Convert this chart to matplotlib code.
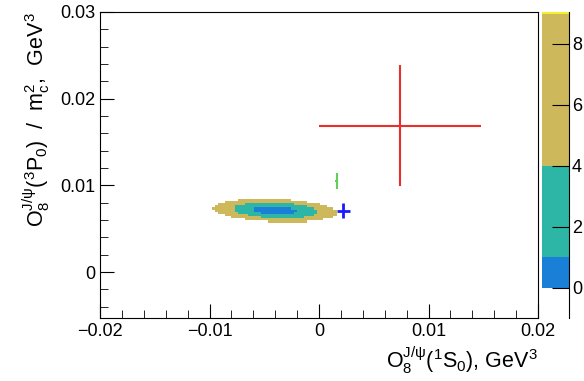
import matplotlib
matplotlib.use("Agg")
import matplotlib.pyplot as plt
import numpy as np
from matplotlib.colors import ListedColormap, BoundaryNorm
from matplotlib.ticker import MultipleLocator

plt.rcParams['font.family'] = ['Liberation Sans', 'DejaVu Sans']
plt.rcParams['mathtext.fontset'] = 'custom'
plt.rcParams['mathtext.rm'] = 'Liberation Sans'
plt.rcParams['mathtext.it'] = 'Liberation Sans'
plt.rcParams['mathtext.bf'] = 'Liberation Sans'

# chi2 surface of the fit (quadratic approximation)
fit_center = (-0.0040, 0.0071)
fit_sigma = (0.0019, 0.00045)
fit_rho = -0.2
chi2_levels = [0, 1, 4, 9]
level_colors = ['#1a7fd6', '#2db6a6', '#cdb95c']

# other determinations: x, y, xerr, yerr
blue_pt = (0.0022, 0.0071, 0.0006, 0.0009)
green_pt = (0.0016, 0.0105, 0.00013, 0.0009)
red_pt = (0.0074, 0.0169, 0.0074, 0.0070)

fig = plt.figure(figsize=(5.84, 3.81), dpi=100)
W, H = 584, 381
ax = fig.add_axes([100 / W, 1 - 318 / H, 438 / W, 306 / H])

xe = np.arange(-0.02, 0.02 + 1e-9, 0.0003)
ye = np.arange(-0.0053, 0.03 + 1e-9, 0.00025)
xc = 0.5 * (xe[1:] + xe[:-1])
yc = 0.5 * (ye[1:] + ye[:-1])
X, Y = np.meshgrid(xc, yc)
dx = (X - fit_center[0]) / fit_sigma[0]
dy = (Y - fit_center[1]) / fit_sigma[1]
chi2 = (dx**2 + dy**2 - 2 * fit_rho * dx * dy) / (1 - fit_rho**2)
chi2 = np.ma.masked_greater_equal(chi2, 9)

cmap = ListedColormap(level_colors)
norm = BoundaryNorm(chi2_levels, cmap.N)
ax.pcolormesh(xe, ye, chi2, cmap=cmap, norm=norm)

for (x, y, ex, ey), c, lw in [(red_pt, '#e8302a', 1.5), (green_pt, '#62cf5a', 1.5), (blue_pt, '#1a1aff', 2)]:
    ax.errorbar([x], [y], xerr=[ex], yerr=[ey], fmt='none', ecolor=c, elinewidth=lw, capsize=0)

ax.set_xlim(-0.02, 0.02)
ax.set_ylim(-0.0053, 0.03)
ax.xaxis.set_major_locator(MultipleLocator(0.01))
ax.xaxis.set_minor_locator(MultipleLocator(0.002))
ax.yaxis.set_major_locator(MultipleLocator(0.01))
ax.yaxis.set_minor_locator(MultipleLocator(0.002))
ax.tick_params(which='both', direction='in', top=False, right=False, labelsize=13)
ax.tick_params(which='major', length=10)
ax.tick_params(which='minor', length=6)
ax.set_xticks([-0.02, -0.01, 0, 0.01, 0.02])
ax.set_xticklabels(['\u22120.02', '\u22120.01', '0', '0.01', '0.02'])
ax.set_yticks([0, 0.01, 0.02, 0.03])
ax.set_yticklabels(['0', '0.01', '0.02', '0.03'])

ax.set_xlabel(r'$\mathrm{O_8^{J/\psi}(^1S_0)}$, GeV$^3$', fontsize=15.5, loc='right', labelpad=3)
ax.set_ylabel(r'$\mathrm{O_8^{J/\psi}(^3P_0)}$  /  $\mathrm{m_c^2}$,  GeV$^3$', fontsize=15.5, loc='top', labelpad=6)

# palette
cax = fig.add_axes([542 / W, 1 - 318 / H, 27 / W, 306 / H])
cax.set_ylim(-1.0, 9.05)
cax.set_xlim(0, 1)
for lo, hi, c in zip(chi2_levels[:-1], chi2_levels[1:], level_colors):
    cax.axhspan(lo, min(hi, 9.0), color=c, lw=0)
cax.axhspan(9.0, 9.05, color='#f5f02a', lw=0)
for s in ['left', 'top', 'bottom']:
    cax.spines[s].set_visible(False)
cax.set_xticks([])
cax.yaxis.tick_right()
cax.set_yticks([0, 2, 4, 6, 8])
cax.tick_params(axis='y', direction='in', length=12, labelsize=13, pad=2)

fig.savefig('out.png', dpi=100)
